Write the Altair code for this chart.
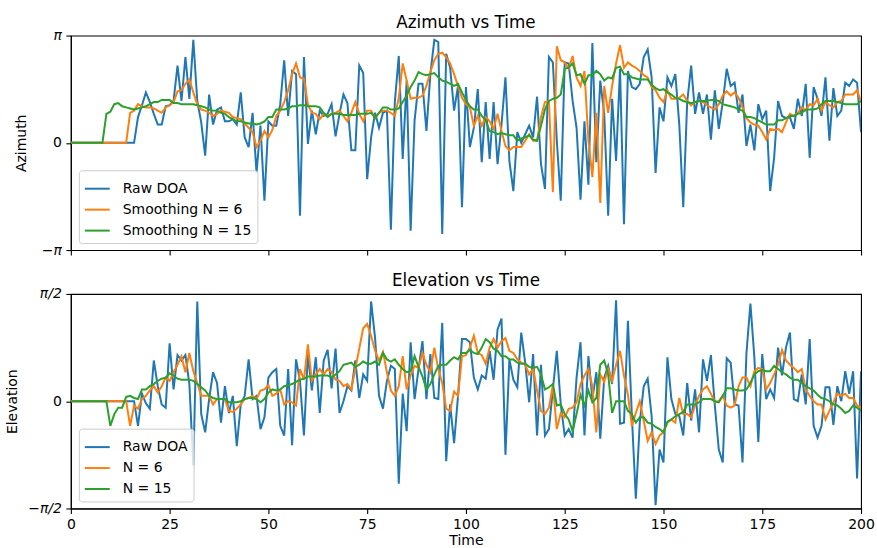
import numpy as np
import pandas as pd
import altair as alt

time = list(range(201))

# Azimuth estimates, in units of pi radians
az_raw = [
    0, 0, 0, 0, 0, 0, 0, 0, 0, 0,
    0, 0, 0, 0, 0, 0, 0, 0.24, 0.35, 0.47,
    0.38, 0.27, 0.17, 0.17, 0.34, 0.35, 0.39, 0.72, 0.39, 0.80,
    0.41, 0.96, 0.39, 0.19, -0.12, 0.45, 0.17, 0.31, 0.33, 0.20,
    0.20, 0.22, 0.17, 0.47, 0.05, -0.04, 0.28, -0.28, 0.16, -0.54,
    0.20, 0.16, 0.16, 0.36, 0.77, 0.25, 0.67, 0.64, -0.68, 0.80,
    -0.01, 0.30, 0.08, 0.30, 0.25, 0.27, 0.36, 0.06, 0.27, 0.45,
    0.37, -0.07, -0.07, 0.72, 0.65, -0.34, 0.05, 0.28, 0.14, 0.28,
    0.30, -0.81, 0.38, 0.81, -0.15, 0.58, -0.82, 0.21, 0.55, 0.55,
    0.11, 0.64, 0.96, 0.94, -0.85, 0.83, 0.70, 0.30, 0.53, -0.60,
    0.52, -0.04, 0.14, 0.50, -0.18, 0.38, -0.15, 0.38, -0.20, 0.17,
    0.61, -0.17, -0.45, 0.10, 0.00, 0.08, 0.16, 0.05, 0.43, -0.20,
    -0.43, 0.80, 0.75, 0.02, -0.54, 0.75, 0.74, 0.39, 0.14, -0.53,
    0.20, -0.39, 0.93, -0.18, 0.58, 0.27, -0.68, 0.41, -0.17, 0.69,
    -0.76, 0.67, 0.52, 0.50, 0.55, 0.80, 0.87, 0.61, -0.28, 0.33,
    0.20, 0.61, 0.53, 0.64, 0.17, -0.60, 0.38, 0.72, 0.27, 0.47,
    0.27, 0.45, 0.03, 0.49, 0.13, 0.38, 0.69, 0.53, 0.56, 0.28,
    0.45, -0.03, 0.17, -0.07, 0.36, 0.22, 0.30, -0.45, -0.14, 0.39,
    0.25, 0.23, 0.24, 0.13, 0.41, 0.25, 0.55, -0.14, 0.52, 0.41,
    0.25, 0.61, 0.02, 0.51, 0.25, 0.30, 0.56, 0.53, 0.59, 0.56,
    0.10,
]
az_n6 = [
    0, 0, 0, 0, 0, 0, 0, 0, 0, 0,
    0, 0, 0, 0, 0, 0.28, 0.30, 0.36, 0.34, 0.33,
    0.33, 0.32, 0.30, 0.28, 0.33, 0.35, 0.38, 0.48, 0.49, 0.55,
    0.59, 0.47, 0.36, 0.31, 0.30, 0.28, 0.25, 0.27, 0.30, 0.29,
    0.28, 0.24, 0.23, 0.22, 0.18, 0.14, 0.10, -0.04, 0.02, 0.11,
    0.05, 0.12, 0.25, 0.30, 0.38, 0.49, 0.64, 0.74, 0.61, 0.60,
    0.36, 0.28, 0.27, 0.22, 0.27, 0.25, 0.27, 0.28, 0.30, 0.25,
    0.20, 0.28, 0.38, 0.27, 0.20, 0.30, 0.30, 0.23, 0.28, 0.30,
    0.30, 0.28, 0.25, 0.42, 0.74, 0.58, 0.41, 0.42, 0.42, 0.44,
    0.53, 0.66, 0.77, 0.83, 0.84, 0.80, 0.74, 0.64, 0.53, 0.42,
    0.36, 0.33, 0.16, 0.25, 0.16, 0.24, 0.20, 0.13, 0.27, 0.11,
    -0.03, -0.07, -0.04, -0.04, -0.04, 0.02, 0.08, 0.02, 0.02, 0.24,
    0.38, 0.39, -0.46, 0.90, 0.77, 0.75, 0.69, 0.81, 0.61, 0.53,
    0.67, 0.02, -0.32, 0.28, -0.56, 0.53, 0.28, 0.53, 0.74, 0.91,
    0.70, 0.75, 0.72, 0.70, 0.67, 0.63, 0.61, 0.52, 0.49, 0.42,
    0.38, 0.49, 0.41, 0.41, 0.42, 0.45, 0.39, 0.35, 0.38, 0.39,
    0.38, 0.35, 0.33, 0.31, 0.36, 0.44, 0.48, 0.44, 0.47, 0.42,
    0.33, 0.23, 0.19, 0.17, 0.16, 0.10, 0.03, 0.13, 0.12, 0.13,
    0.10, 0.19, 0.27, 0.25, 0.28, 0.33, 0.30, 0.36, 0.35, 0.41,
    0.30, 0.38, 0.35, 0.33, 0.38, 0.39, 0.45, 0.45, 0.45, 0.49,
    0.38,
]
az_n15 = [
    0, 0, 0, 0, 0, 0, 0, 0, 0, 0.27,
    0.29, 0.36, 0.37, 0.34, 0.33, 0.32, 0.31, 0.32, 0.33, 0.34,
    0.36, 0.38, 0.38, 0.40, 0.40, 0.40, 0.37, 0.37, 0.36, 0.36,
    0.36, 0.36, 0.35, 0.34, 0.33, 0.31, 0.30, 0.30, 0.28, 0.27,
    0.24, 0.22, 0.20, 0.20, 0.19, 0.18, 0.18, 0.17, 0.18, 0.20,
    0.24, 0.24, 0.31, 0.31, 0.31, 0.32, 0.34, 0.34, 0.35, 0.35,
    0.34, 0.34, 0.34, 0.33, 0.28, 0.24, 0.27, 0.27, 0.27, 0.26,
    0.26, 0.26, 0.26, 0.27, 0.27, 0.27, 0.28, 0.23, 0.28, 0.33,
    0.33, 0.31, 0.31, 0.32, 0.38, 0.44, 0.52, 0.58, 0.66, 0.64,
    0.63, 0.64, 0.65, 0.61, 0.58, 0.57, 0.55, 0.53, 0.55, 0.47,
    0.40, 0.34, 0.31, 0.31, 0.25, 0.21, 0.11, 0.10, 0.08, 0.09,
    0.08, 0.07, 0.07, 0.02, 0.04, 0.05, 0.07, 0.03, 0.02, 0.16,
    0.31, 0.39, 0.41, 0.42, 0.45, 0.69, 0.70, 0.74, 0.63, 0.64,
    0.55, 0.63, 0.63, 0.67, 0.64, 0.58, 0.61, 0.60, 0.70, 0.71,
    0.64, 0.64, 0.61, 0.60, 0.59, 0.59, 0.59, 0.54, 0.51, 0.49,
    0.50, 0.47, 0.45, 0.42, 0.41, 0.39, 0.38, 0.37, 0.38, 0.39,
    0.39, 0.39, 0.40, 0.40, 0.39, 0.36, 0.35, 0.34, 0.33, 0.31,
    0.30, 0.24, 0.24, 0.23, 0.21, 0.19, 0.17, 0.17, 0.17, 0.21,
    0.21, 0.23, 0.25, 0.25, 0.27, 0.28, 0.31, 0.31, 0.31, 0.32,
    0.36, 0.39, 0.39, 0.39, 0.38, 0.37, 0.36, 0.36, 0.36, 0.36,
    0.39,
]

# Elevation estimates, in units of pi/2 radians
el_raw = [
    0, 0, 0, 0, 0, 0, 0, 0, 0, 0,
    0, 0, 0, 0, 0, 0, 0, -0.23, 0.07, -0.02,
    -0.07, 0.38, 0.14, -0.03, -0.06, 0.54, 0.11, 0.43, 0.38, 0.43,
    0.16, -0.60, 0.93, -0.12, -0.29, 0.02, 0.27, 0.17, -0.20, 0.14,
    -0.11, 0.05, -0.42, -0.03, 0.05, 0.39, 0.02, 0.05, -0.26, -0.15,
    0.22, 0.27, 0.30, -0.23, -0.32, 0.30, -0.41, 0.39, 0.19, -0.32,
    0.44, 0.10, 0.41, -0.11, 0.38, 0.48, 0.12, 0.49, -0.11, 0.00,
    0.14, 0.10, 0.38, 0.03, 0.25, 0.19, 0.93, 0.59, 0.05, -0.07,
    0.19, 0.33, 0.30, -0.77, 0.07, -0.28, 0.55, 0.02, 0.30, 0.56,
    0.02, 0.44, 0.03, 0.02, 0.73, -0.56, -0.03, -0.39, 0.05, 0.58,
    0.58, 0.55, 0.22, 0.11, 0.24, 0.21, 0.47, 0.20, 0.67, 0.77,
    -0.50, 0.39, 0.20, 0.13, 0.64, 0.36, -0.01, 0.44, -0.32, 0.34,
    -0.32, -0.26, 0.11, 0.47, -0.03, -0.32, -0.26, -0.34, 0.22, 0.55,
    -0.32, 0.42, 0.02, 0.27, -0.35, 0.22, 0.33, 0.16, 0.94, -0.21,
    -0.20, 0.75, -0.14, -0.91, -0.20, 0.14, 0.21, -0.14, -0.97, -0.45,
    -0.57, 0.41, 0.02, -0.12, -0.14, -0.32, 0.17, -0.18, 0.11, -0.29,
    0.39, 0.19, 0.43, -0.04, -0.45, -0.57, 0.40, 0.36, -0.03, -0.04,
    -0.57, 0.45, 0.91, 0.41, -0.38, 0.44, 0.02, 0.11, 0.03, 0.50,
    0.24, 0.50, 0.64, 0.02, 0.00, 0.25, -0.03, 0.58, -0.23, -0.34,
    -0.23, 0.13, 0.13, -0.22, 0.14, 0.00, 0.28, 0.07, 0.28, -0.72,
    0.28,
]
el_n6 = [
    0, 0, 0, 0, 0, 0, 0, 0, 0, 0,
    0, 0, 0, 0, 0, -0.23, -0.04, -0.07, 0.02, 0.05,
    0.10, 0.14, 0.08, 0.14, 0.22, 0.19, 0.27, 0.34, 0.42, 0.27,
    0.45, 0.28, 0.17, 0.05, 0.05, 0.05, -0.03, 0.02, 0.02, 0.02,
    -0.09, -0.10, -0.07, -0.03, 0.02, 0.03, 0.05, 0.02, 0.10, 0.11,
    0.15, 0.05, 0.07, 0.11, -0.03, 0.00, -0.01, -0.04, 0.30, 0.20,
    0.53, 0.19, 0.25, 0.30, 0.25, 0.30, 0.27, 0.20, 0.19, 0.14,
    0.16, 0.11, 0.30, 0.49, 0.68, 0.72, 0.61, 0.47, 0.38, 0.46,
    0.27, 0.10, 0.05, 0.14, 0.42, 0.11, 0.24, 0.33, 0.31, 0.45,
    0.34, 0.27, 0.50, 0.30, 0.17, -0.07, -0.09, 0.09, 0.05, 0.42,
    0.43, 0.50, 0.61, 0.45, 0.43, 0.35, 0.50, 0.58, 0.50, 0.56,
    0.59, 0.47, 0.45, 0.39, 0.36, 0.34, 0.25, 0.30, 0.10, -0.09,
    -0.12, -0.06, 0.15, -0.26, -0.11, -0.15, -0.07, -0.06, -0.01, 0.16,
    0.24, 0.30, 0.14, -0.29, 0.25, 0.18, 0.30, 0.19, 0.34, 0.47,
    0.24, 0.06, -0.23, -0.11, 0.00, -0.18, -0.37, -0.29, -0.40, -0.32,
    -0.29, -0.20, -0.17, -0.20, 0.03, -0.12, -0.12, -0.15, -0.04, 0.05,
    0.11, 0.14, 0.07, -0.01, 0.00, 0.05, -0.04, -0.06, -0.04, 0.14,
    0.22, 0.22, 0.14, 0.28, 0.31, 0.30, 0.11, 0.17, 0.25, 0.34,
    0.48, 0.38, 0.34, 0.31, 0.27, 0.30, 0.11, 0.05, 0.00, -0.03,
    -0.03, -0.17, -0.09, -0.01, 0.07, 0.05, 0.07, 0.03, 0.03, -0.04,
    -0.06,
]
el_n15 = [
    0, 0, 0, 0, 0, 0, 0, 0, 0, 0,
    -0.23, -0.12, -0.06, -0.06, 0.04, 0.05, 0.03, 0.02, 0.11, 0.11,
    0.14, 0.16, 0.19, 0.21, 0.22, 0.26, 0.24, 0.21, 0.20, 0.20,
    0.20, 0.19, 0.16, 0.13, 0.10, 0.05, 0.03, 0.02, 0.02, 0.02,
    -0.01, -0.01, -0.01, 0.00, 0.02, 0.03, 0.03, 0.02, -0.01, 0.02,
    0.08, 0.11, 0.10, 0.11, 0.14, 0.15, 0.16, 0.18, 0.20, 0.21,
    0.23, 0.23, 0.23, 0.24, 0.24, 0.24, 0.22, 0.25, 0.28, 0.34,
    0.35, 0.36, 0.32, 0.34, 0.37, 0.35, 0.35, 0.37, 0.34, 0.45,
    0.39, 0.37, 0.39, 0.34, 0.30, 0.27, 0.28, 0.42, 0.32, 0.23,
    0.11, 0.16, 0.25, 0.33, 0.34, 0.34, 0.38, 0.41, 0.39, 0.45,
    0.45, 0.48, 0.45, 0.44, 0.50, 0.58, 0.55, 0.49, 0.47, 0.42,
    0.42, 0.39, 0.39, 0.36, 0.35, 0.35, 0.32, 0.31, 0.32, 0.25,
    0.11, 0.13, 0.16, -0.04, -0.03, -0.12, -0.17, -0.28, -0.12, 0.06,
    -0.04, 0.10, -0.01, 0.03, 0.34, 0.38, 0.25, -0.11, 0.00, 0.00,
    0.00, -0.09, -0.12, -0.20, -0.15, -0.15, -0.20, -0.21, -0.24, -0.26,
    -0.29, -0.19, -0.17, -0.14, -0.12, -0.10, -0.03, -0.03, -0.03, -0.01,
    0.02, 0.02, 0.02, 0.00, -0.01, 0.05, 0.12, 0.12, 0.11, 0.10,
    0.10, 0.11, 0.17, 0.25, 0.28, 0.29, 0.28, 0.28, 0.33, 0.30,
    0.27, 0.25, 0.22, 0.20, 0.20, 0.17, 0.14, 0.12, 0.10, 0.06,
    0.03, 0.02, 0.00, -0.03, -0.04, -0.07, -0.11, -0.09, -0.04, -0.06,
    -0.09,
]

az_names = ["Raw DOA", "Smoothing N = 6", "Smoothing N = 15"]
el_names = ["Raw DOA", "N = 6", "N = 15"]
palette = ["#1f77b4", "#ff7f0e", "#2ca02c"]
FONT = "DejaVu Sans"
TEXT_SIZE = 14


def long_frame(series, unit, names):
    rows = []
    for name, vals in zip(names, series):
        assert len(vals) == len(time), (name, len(vals))
        for t, v in zip(time, vals):
            rows.append({"Time": t, "value": v * unit, "series": name})
    return pd.DataFrame(rows)


def panel(df, names, title, ytitle, ymax, tick_text, show_x, ytitle_pad):
    x = alt.X(
        "Time:Q",
        scale=alt.Scale(domain=[0, 200], nice=False),
        axis=alt.Axis(
            values=list(range(0, 201, 25)),
            labels=show_x,
            labelFlush=False,
            title="Time" if show_x else None,
            titlePadding=2,
        ),
    )
    y = alt.Y(
        "value:Q",
        scale=alt.Scale(domain=[-ymax, ymax], nice=False, zero=False),
        axis=alt.Axis(
            values=[-ymax, 0, ymax],
            labelFlush=False,
            labelExpr=(
                f"datum.value > 0.1 ? '{tick_text}' : "
                f"(datum.value < -0.1 ? '\u2212{tick_text}' : '0')"
            ),
            labelFontStyle={
                "condition": {"test": "abs(datum.value) > 0.1", "value": "italic"},
                "value": "normal",
            },
            title=ytitle,
            titlePadding=ytitle_pad,
        ),
    )
    color = alt.Color(
        "series:N",
        scale=alt.Scale(domain=names, range=palette),
        legend=alt.Legend(
            title=None,
            orient="none",
            legendX=8,
            legendY=135,
            symbolType="stroke",
            symbolSize=625,
            symbolStrokeWidth=2,
            labelOffset=12,
            rowPadding=-1,
            padding=5,
            labelFont=FONT,
            labelFontSize=TEXT_SIZE,
            labelColor="black",
            strokeColor="#cccccc",
            fillColor="rgba(255,255,255,0.8)",
            cornerRadius=3,
        ),
    )
    layers = [
        alt.Chart(df)
        .transform_filter(alt.datum.series == name)
        .mark_line(strokeWidth=2, clip=True)
        .encode(x=x, y=y, color=color, order="Time:Q")
        for name in names
    ]
    return alt.layer(*layers).properties(
        width=792,
        height=215,
        title=alt.TitleParams(
            title, font=FONT, fontSize=16.8, fontWeight="normal", offset=-3, color="black"
        ),
    )


az_df = long_frame([az_raw, az_n6, az_n15], np.pi, az_names)
el_df = long_frame([el_raw, el_n6, el_n15], np.pi / 2, el_names)

top = panel(az_df, az_names, "Azimuth vs Time", "Azimuth", np.pi, "\u03c0", False, 13)
bottom = panel(el_df, el_names, "Elevation vs Time", "Elevation", np.pi / 2, "\u03c0/2", True, 8)

chart = (
    alt.vconcat(top, bottom, spacing=14)
    .resolve_scale(color="independent")
    .properties(padding={"left": 5, "top": 13, "right": 2, "bottom": 2})
    .configure(font=FONT)
    .configure_axis(
        grid=False,
        labelFont=FONT,
        labelFontSize=TEXT_SIZE,
        labelColor="black",
        titleFont=FONT,
        titleFontSize=TEXT_SIZE,
        titleFontWeight="normal",
        titleColor="black",
        tickSize=5,
        tickWidth=1.1,
        tickColor="black",
        domainColor="black",
        domainWidth=1.1,
        labelPadding=4.5,
    )
    .configure_view(stroke="black", strokeWidth=1.1)
)

chart.save("out.html", embed_options={"renderer": "svg", "actions": False})
